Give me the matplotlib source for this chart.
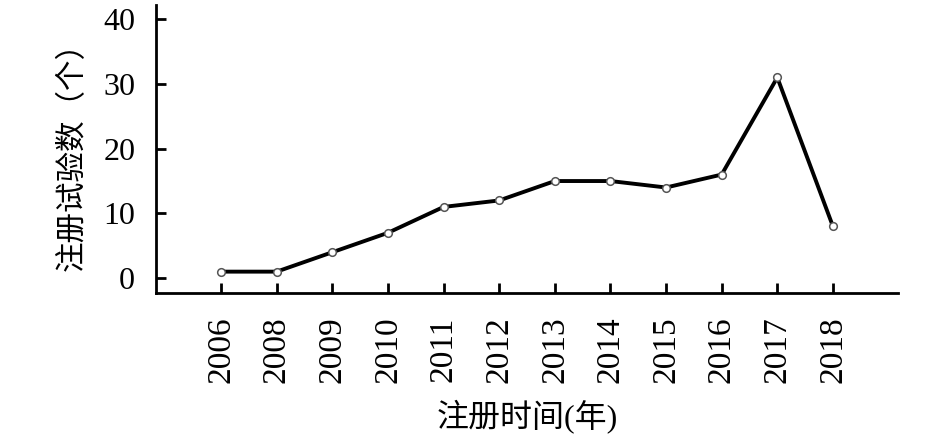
import numpy as np
import matplotlib.pyplot as plt

plt.rcParams['font.family'] = ['Liberation Serif', 'Noto Sans CJK SC']

# data
years = ['2006', '2008', '2009', '2010', '2011', '2012', '2013', '2014', '2015', '2016', '2017', '2018']
counts = [1, 1, 4, 7, 11, 12, 15, 15, 14, 16, 31, 8]
y_ticks = [0, 10, 20, 30, 40]

fig = plt.figure(figsize=(9.45, 4.41), dpi=100)
ax = fig.add_axes([156 / 945, 1 - 293 / 441, (898 - 156) / 945, (293 - 5) / 441])

x = np.arange(len(years))
ax.plot(x, counts, color='black', lw=2.8, marker='o', ms=5.5,
        mfc='white', mec='#555555', mew=1.1, zorder=3)

ax.set_xlim(-1.17, 12.17)
ax.set_ylim(-2.3, 42.2)
ax.set_xticks(x)
ax.set_xticklabels(years, rotation=90, fontsize=24)
ax.set_yticks(y_ticks)
ax.set_yticklabels([str(v) for v in y_ticks], fontsize=23)

for side in ['top', 'right']:
    ax.spines[side].set_visible(False)
for side in ['left', 'bottom']:
    ax.spines[side].set_linewidth(2.0)

ax.tick_params(axis='both', direction='in', length=7, width=2.0)
ax.tick_params(axis='x', pad=17)
ax.tick_params(axis='y', pad=15)

ax.set_ylabel('注册试验数（个）', fontsize=22, labelpad=11)
ax.set_xlabel('注册时间(年)', fontsize=23, labelpad=12)

fig.savefig('out.png', dpi=100)
